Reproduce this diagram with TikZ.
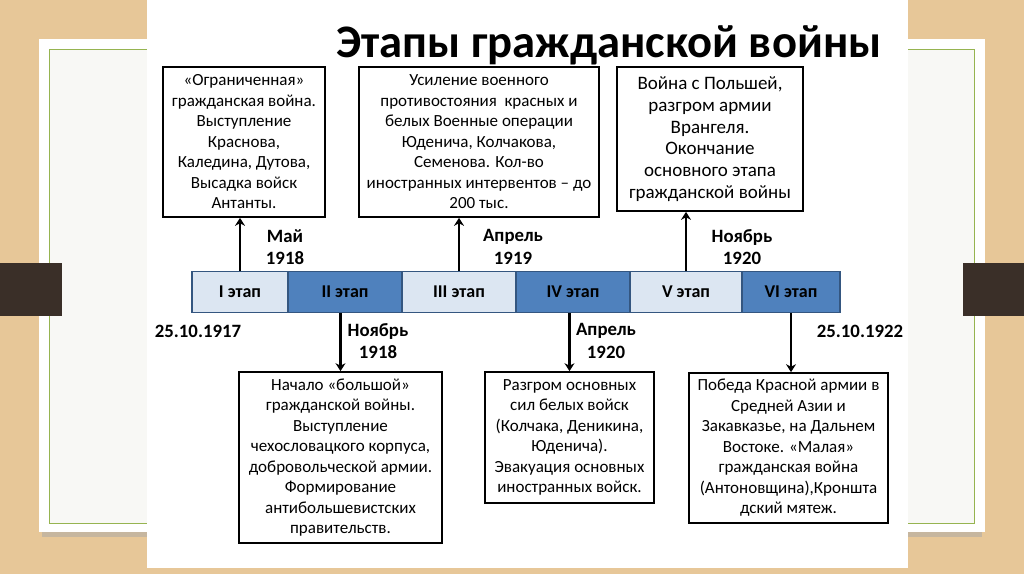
\documentclass[tikz,border=0pt]{standalone}
\usepackage{fontspec}
\setmainfont{Carlito}
\usepackage{tikz}
\usetikzlibrary{arrows.meta}
\usepackage{xcolor}
\definecolor{wood}{RGB}{231,199,152}
\definecolor{paper}{RGB}{248,248,245}
\definecolor{leaf}{RGB}{150,180,80}
\definecolor{bark}{RGB}{58,47,40}
\definecolor{stagelight}{RGB}{220,230,242}
\definecolor{stagedark}{RGB}{79,129,189}
\definecolor{stageline}{RGB}{52,86,128}

\begin{document}
\begin{tikzpicture}[x=1pt, y=-1pt,
  note/.style  ={draw=black, line width=1.7pt, fill=white, align=center,
                 inner sep=0pt, font=\fontsize{17}{20.5}\selectfont},
  lstage/.style={draw=stageline, line width=1.2pt, fill=stagelight,
                 minimum height=41pt, inner sep=0pt,
                 font=\fontsize{18}{20}\selectfont\bfseries},
  dstage/.style={lstage, fill=stagedark},
  arr/.style   ={-{Stealth[length=8pt,width=10pt]}, line width=2.8pt},
  date/.style  ={font=\fontsize{18.8}{22.5}\selectfont\bfseries, align=center}
]
  %% ── Backdrop: wood, paper sheet, dark tabs, slide ──────────────────────
  \useasboundingbox (0,0) rectangle (1024,574);
  \fill[wood] (0,0) rectangle (1024,574);
  \fill[black!35, opacity=.5] (42,532) rectangle (982,537);
  \fill[white] (39,39) rectangle (985,532);
  \fill[paper] (49,49) rectangle (974,523);
  \draw[leaf, line width=1pt] (49,49) rectangle (974,523);
  \fill[bark] (0,263) rectangle (62,316);
  \fill[bark] (963,263) rectangle (1024,316);
  \fill[white] (147,0) rectangle (908,568);

  %% ── Title ───────────────────────────────────────────────────────────────
  \node[font=\fontsize{46.6}{54}\selectfont\bfseries] (title) at (609,45)
    {Этапы гражданской войны};

  %% ── Timeline bar: six stages ────────────────────────────────────────────
  \node[lstage, minimum width=96pt]  (st1) at (240,292) {I этап};
  \node[dstage, minimum width=114pt] (st2) at (345,292) {II этап};
  \node[lstage, minimum width=114pt] (st3) at (459,292) {III этап};
  \node[dstage, minimum width=114pt] (st4) at (573,292) {IV этап};
  \node[lstage, minimum width=112pt] (st5) at (686,292) {V этап};
  \node[dstage, minimum width=98pt]  (st6) at (791,292) {VI этап};

  %% ── Upper boxes ─────────────────────────────────────────────────────────
  \node[note, minimum width=162pt, minimum height=150pt] (box1) at (244,142)
    {«Ограниченная»\\гражданская война.\\Выступление\\Краснова,\\
     Каледина, Дутова,\\Высадка войск\\Антанты.};
  \node[note, minimum width=240pt, minimum height=150pt] (box2) at (479,142)
    {Усиление военного\\противостояния\ \ красных и\\белых Военные операции\\
     Юденича, Колчакова,\\Семенова. Кол-во\\иностранных интервентов -- до\\200 тыс.};
  \node[note, minimum width=186pt, minimum height=144pt,
        font=\fontsize{19}{21.7}\selectfont] (box3) at (710,139)
    {Война с Польшей,\\разгром армии\\Врангеля.\\Окончание\\основного этапа\\
     гражданской войны};

  %% ── Lower boxes ─────────────────────────────────────────────────────────
  \node[note, minimum width=203pt, minimum height=171pt] (box4) at (340.5,457.5)
    {Начало «большой»\\гражданской войны.\\Выступление\\чехословацкого корпуса,\\
     добровольческой армии.\\Формирование\\антибольшевистских\\правительств.};
  \node[note, minimum width=169pt, minimum height=131pt] (box5) at (569.5,437.5)
    {Разгром основных\\сил белых войск\\(Колчака, Деникина,\\Юденича).\\
     Эвакуация основных\\иностранных войск.};
  \node[note, minimum width=199pt, minimum height=150pt] (box6) at (788.5,448)
    {Победа Красной армии в\\Средней Азии и\\Закавказье, на Дальнем\\
     Востоке. «Малая»\\гражданская война\\(Антоновщина),Кроншта\\дский мятеж.};

  %% ── Dates ───────────────────────────────────────────────────────────────
  \node[date] (d1) at (285,247) {Май\\1918};
  \node[date] (d3) at (513,247) {Апрель\\1919};
  \node[date] (d5) at (742,247) {Ноябрь\\1920};
  \node[date] (d0) at (198,331) {25.10.1917};
  \node[date] (d2) at (378,341) {Ноябрь\\1918};
  \node[date] (d4) at (606,341) {Апрель\\1920};
  \node[date] (d6) at (860,331) {25.10.1922};

  %% ── Arrows: bar → upper boxes ───────────────────────────────────────────
  \draw[arr] (st1.north) -- (st1.north |- box1.south);
  \draw[arr] (st3.north) -- (st3.north |- box2.south);
  \draw[arr] (st5.north) -- (st5.north |- box3.south);

  %% ── Arrows: bar → lower boxes ───────────────────────────────────────────
  \draw[arr] (box4.north |- st2.south) -- (box4.north);
  \draw[arr] (box5.north |- st4.south) -- (box5.north);
  \draw[arr] (st6.south) -- (st6.south |- box6.north);

\end{tikzpicture}
\end{document}
